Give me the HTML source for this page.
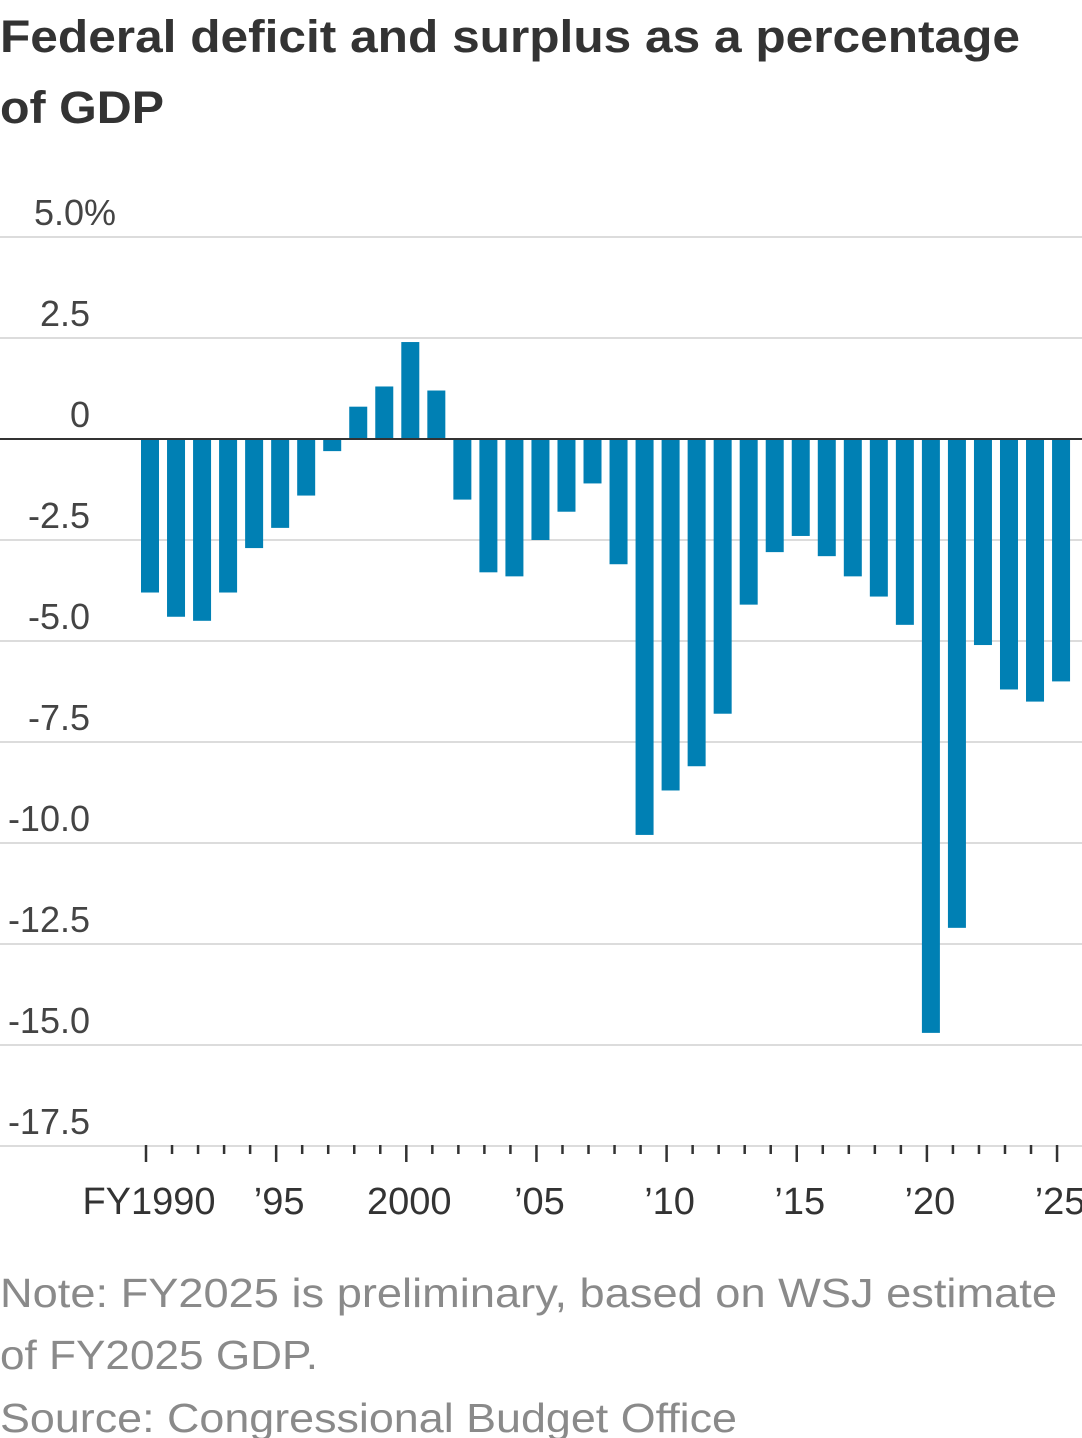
<!DOCTYPE html>
<html><head><meta charset="utf-8">
<style>
html,body{margin:0;padding:0;background:#fff;width:1082px;height:1438px;overflow:hidden}
svg{display:block}
text{font-family:"Liberation Sans","DejaVu Sans",sans-serif}
</style></head>
<body>
<svg id="chart" width="1082" height="1438" viewBox="0 0 1082 1438">
<text x="0" y="52" font-size="45" font-weight="bold" fill="#333" textLength="1020" lengthAdjust="spacingAndGlyphs">Federal deficit and surplus as a percentage</text>
<text x="0" y="123" font-size="45" font-weight="bold" fill="#333" textLength="164" lengthAdjust="spacingAndGlyphs">of GDP</text>
<g id="grid"></g>
<g id="bars"></g>
<g id="xaxis"></g>
<text x="0" y="1307" font-size="41" fill="#8a8a8a" textLength="1057" lengthAdjust="spacingAndGlyphs">Note: FY2025 is preliminary, based on WSJ estimate</text>
<text x="0" y="1369" font-size="41" fill="#8a8a8a" textLength="318" lengthAdjust="spacingAndGlyphs">of FY2025 GDP.</text>
<text x="0" y="1432" font-size="41" fill="#8a8a8a" textLength="737" lengthAdjust="spacingAndGlyphs">Source: Congressional Budget Office</text>
</svg>
<script>
const years=[1990,1991,1992,1993,1994,1995,1996,1997,1998,1999,2000,2001,2002,2003,2004,2005,2006,2007,2008,2009,2010,2011,2012,2013,2014,2015,2016,2017,2018,2019,2020,2021,2022,2023,2024,2025];
const values=[-3.8,-4.4,-4.5,-3.8,-2.7,-2.2,-1.4,-0.3,0.8,1.3,2.4,1.2,-1.5,-3.3,-3.4,-2.5,-1.8,-1.1,-3.1,-9.8,-8.7,-8.1,-6.8,-4.1,-2.8,-2.4,-2.9,-3.4,-3.9,-4.6,-14.7,-12.1,-5.1,-6.2,-6.5,-6.0];
const yTicks=[5,2.5,0,-2.5,-5,-7.5,-10,-12.5,-15,-17.5];
const yTickLabels=["5.0%","2.5","0","-2.5","-5.0","-7.5","-10.0","-12.5","-15.0","-17.5"];
const xLabelYears=[1990,1995,2000,2005,2010,2015,2020,2025];
const xLabels=["FY1990","’95","2000","’05","’10","’15","’20","’25"];
const NS="http://www.w3.org/2000/svg";
const y=v=>439-v*40.4;
const x=yr=>146+(yr-1990)*26.03;
function mk(tag,attrs,parent){const e=document.createElementNS(NS,tag);for(const k in attrs)e.setAttribute(k,attrs[k]);document.getElementById(parent).appendChild(e);return e;}
yTicks.forEach((t,i)=>{
  if(t!==0){const l=mk('line',{x1:0,x2:1082,y1:y(t),y2:y(t),stroke:'#dcdcdc','stroke-width':2},'grid');
  
  }
  const tx=mk('text',{x:90,y:y(t)-12,'font-size':36,fill:'#444','text-anchor':'end'},'grid');
  
  
  if(i===0){tx.setAttribute('text-anchor','start');tx.setAttribute('x',34);}
  tx.textContent=yTickLabels[i];
});
years.forEach((yr,i)=>{
  const v=values[i];
  const r=mk('rect',{x:x(yr)-5,width:18,y:Math.min(y(0),y(v)),height:Math.abs(y(v)-y(0)),fill:'#0080b4'},'bars');
  
  
  const major=(yr%5===0);
  const tk=mk('line',{x1:x(yr),x2:x(yr),y1:1145,y2:major?1162:1154,stroke:'#333','stroke-width':2.5},'xaxis');
  
  
});
const zl=mk('line',{x1:0,x2:1082,y1:y(0),y2:y(0),stroke:'#333','stroke-width':2},'bars');


xLabelYears.forEach((yr,i)=>{
  const t=mk('text',{x:x(yr)+3,y:1214,'font-size':38,fill:'#333','text-anchor':'middle'},'xaxis');
  
  
  t.textContent=xLabels[i];
});
</script>
</body></html>
